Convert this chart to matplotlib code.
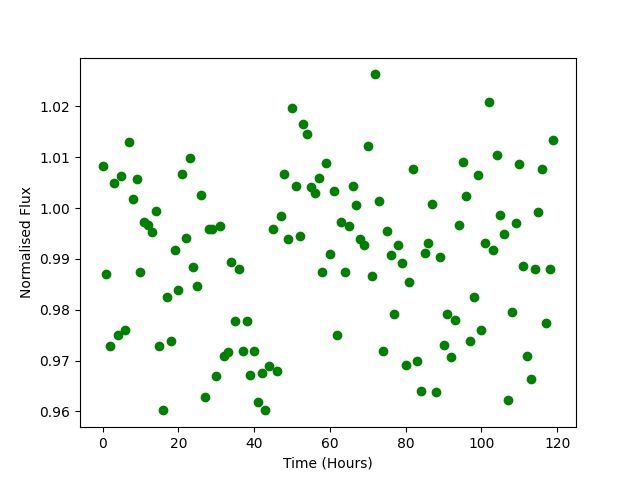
import numpy as np
import matplotlib
matplotlib.use("Agg")
import matplotlib.pyplot as plt

# hourly flux readings
hours = np.arange(120)
flux = [
    1.0082, 0.9870, 0.9728, 1.0050, 0.9750, 1.0064, 0.9760, 1.0130, 1.0017, 1.0058,
    0.9874, 0.9972, 0.9966, 0.9952, 0.9995, 0.9728, 0.9602, 0.9826, 0.9738, 0.9918,
    0.9838, 1.0068, 0.9942, 1.0099, 0.9885, 0.9846, 1.0025, 0.9628, 0.9958, 0.9958,
    0.9669, 0.9964, 0.9710, 0.9716, 0.9893, 0.9777, 0.9881, 0.9718, 0.9777, 0.9671,
    0.9718, 0.9618, 0.9675, 0.9602, 0.9690, 0.9958, 0.9679, 0.9984, 1.0068, 0.9940,
    1.0196, 1.0043, 0.9946, 1.0165, 1.0145, 1.0041, 1.0029, 1.0060, 0.9874, 1.0088,
    0.9909, 1.0033, 0.9750, 0.9972, 0.9874, 0.9964, 1.0043, 1.0007, 0.9940, 0.9927,
    1.0123, 0.9866, 1.0263, 1.0013, 0.9718, 0.9954, 0.9907, 0.9791, 0.9927, 0.9891,
    0.9692, 0.9854, 1.0076, 0.9700, 0.9641, 0.9911, 0.9931, 1.0009, 0.9639, 0.9903,
    0.9730, 0.9791, 0.9708, 0.9779, 0.9966, 1.0090, 1.0023, 0.9738, 0.9826, 1.0066,
    0.9761, 0.9932, 1.0208, 0.9917, 1.0104, 0.9986, 0.9950, 0.9622, 0.9795, 0.9970,
    1.0086, 0.9887, 0.9710, 0.9663, 0.9881, 0.9992, 1.0076, 0.9773, 0.9881, 1.0133,
]

fig = plt.figure(figsize=(6.4, 4.8), dpi=100)
plt.plot(hours, flux, 'go')
plt.xlabel("Time (Hours)")
plt.ylabel("Normalised Flux")
plt.savefig("out.png")
